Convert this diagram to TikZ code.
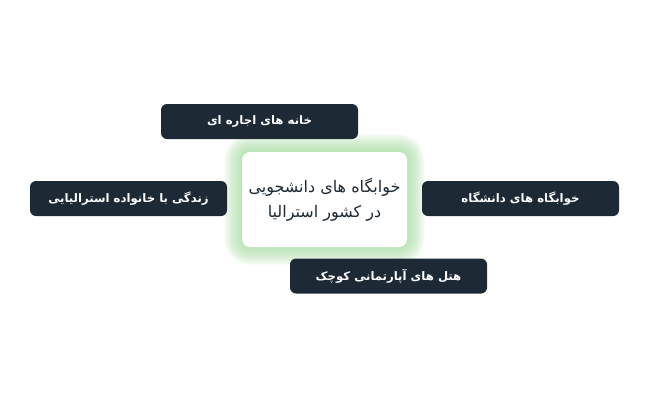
\documentclass[tikz,border=0pt]{standalone}
\usepackage{fontspec}
\TeXXeTstate=1
\newfontfamily\arabicfont[Script=Arabic]{DejaVu Sans}
\definecolor{boxdark}{HTML}{1D2A35}
\definecolor{glowgreen}{HTML}{9CDC96}
\tikzset{
  catbox/.style={fill=boxdark, rounded corners=6pt, minimum width=197pt, minimum height=35pt, inner sep=0pt, text=white, font=\arabicfont\bfseries\fontsize{11.7}{14}\selectfont},
  centerbox/.style={fill=white, rounded corners=8pt, minimum width=165pt, minimum height=95pt, inner sep=0pt, align=center, text=boxdark, font=\arabicfont\fontsize{16}{25}\selectfont}
}
\begin{document}
\begin{tikzpicture}[x=1pt,y=-1pt]
\useasboundingbox[fill=white] (0,0) rectangle (650,400);
% glow
\foreach \i in {1,...,18}{
  \fill[glowgreen, opacity=0.05, rounded corners={8+\i}] ({242-\i},{152-\i}) rectangle ({407+\i},{247+\i});
}
\node[centerbox] (c) at (324.5,199.5) {\beginR خوابگاه های دانشجویی\endR\\\beginR در کشور استرالیا\endR};
\node[catbox] (t) at (259.5,121.5) {\beginR خانه های اجاره ای\endR};
\node[catbox] (l) at (128.5,198.5) {\beginR زندگی با خانواده استرالیایی\endR};
\node[catbox] (r) at (520.5,198.5) {\beginR خوابگاه های دانشگاه\endR};
\node[catbox] (b) at (388.5,276) {\beginR هتل های آپارتمانی کوچک\endR};
\end{tikzpicture}
\end{document}
